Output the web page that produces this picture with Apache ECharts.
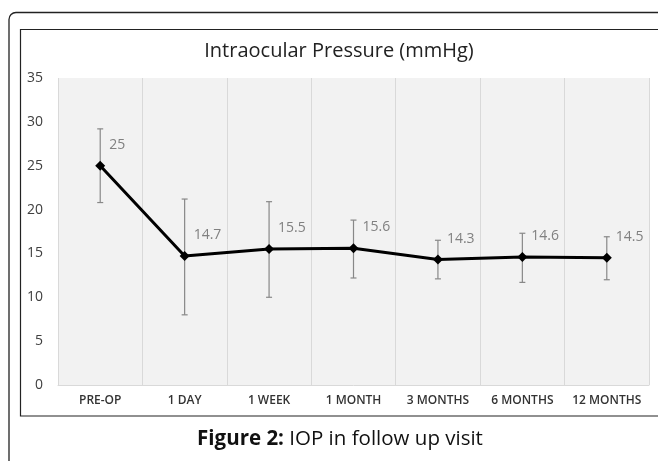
<!DOCTYPE html>
<html>
<head>
<meta charset="utf-8">
<script src="https://cdn.jsdelivr.net/npm/echarts@6/dist/echarts.min.js"></script>
<style>
html,body{margin:0;padding:0;background:#fff;}
#chart{width:658px;height:461px;}
</style>
</head>
<body>
<div id="chart"></div>
<script>
const categories = ['PRE-OP', '1 DAY', '1 WEEK', '1 MONTH', '3 MONTHS', '6 MONTHS', '12 MONTHS'];
const iopMean = [25, 14.7, 15.5, 15.6, 14.3, 14.6, 14.5];
const errLow = [20.8, 8.0, 10.0, 12.2, 12.1, 11.7, 12.0];
const errHigh = [29.2, 21.2, 20.9, 18.8, 16.5, 17.3, 16.9];
const yTicks = [0, 5, 10, 15, 20, 25, 30, 35];
const chartTitle = 'Intraocular Pressure (mmHg)';
const captionBold = 'Figure 2:';
const captionText = ' IOP in follow up visit';

const errData = categories.map((c, i) => [i, errLow[i], errHigh[i]]);

const chart = echarts.init(document.getElementById('chart'), null, {renderer: 'canvas'});
const font = '"Open Sans", "Liberation Sans", sans-serif';

chart.setOption({
  animation: false,
  backgroundColor: '#ffffff',
  grid: {
    left: 58, right: 9, top: 78, bottom: 76,
    show: true, backgroundColor: '#f2f2f2', borderWidth: 0
  },
  xAxis: {
    type: 'category',
    data: categories,
    boundaryGap: true,
    axisLine: {show: true, lineStyle: {color: '#d9d9d9', width: 1}},
    axisTick: {show: false},
    splitLine: {show: true, lineStyle: {color: '#d9d9d9', width: 1}},
    axisLabel: {
      color: '#333', fontSize: 12, fontFamily: font, fontWeight: 600,
      margin: 10, interval: 0
    }
  },
  yAxis: {
    type: 'value',
    min: yTicks[0], max: yTicks[yTicks.length - 1], interval: 5,
    axisLine: {show: false},
    axisTick: {show: false},
    splitLine: {show: false},
    axisLabel: {color: '#404040', fontSize: 14, fontFamily: font, margin: 15}
  },
  series: [
    {
      type: 'custom',
      data: errData,
      z: 2,
      renderItem: function (params, api) {
        const x = api.value(0);
        const lo = api.coord([x, api.value(1)]);
        const hi = api.coord([x, api.value(2)]);
        const cap = 3;
        const style = {stroke: '#888', lineWidth: 1.2, fill: null};
        return {
          type: 'group',
          children: [
            {type: 'line', shape: {x1: lo[0], y1: lo[1], x2: hi[0], y2: hi[1]}, style: style},
            {type: 'line', shape: {x1: lo[0] - cap, y1: lo[1], x2: lo[0] + cap, y2: lo[1]}, style: style},
            {type: 'line', shape: {x1: hi[0] - cap, y1: hi[1], x2: hi[0] + cap, y2: hi[1]}, style: style}
          ]
        };
      }
    },
    {
      type: 'line',
      data: iopMean,
      z: 5,
      symbol: 'diamond',
      symbolSize: 10,
      lineStyle: {color: '#000', width: 3},
      itemStyle: {color: '#000'},
      label: {
        show: true,
        position: 'right',
        distance: 4,
        offset: [0, -21],
        color: '#808080',
        fontSize: 14,
        fontFamily: font
      }
    }
  ],
  graphic: [
    {
      type: 'rect', z: 100, silent: true,
      shape: {x: 9, y: 12.5, width: 700, height: 500, r: 7},
      style: {fill: null, stroke: '#222', lineWidth: 1.3}
    },
    {
      type: 'rect', z: 100, silent: true,
      shape: {x: 20.5, y: 29.5, width: 700, height: 386.5},
      style: {fill: null, stroke: '#222', lineWidth: 1.2}
    },
    {
      type: 'text', z: 100, x: 339, y: 51,
      style: {text: chartTitle, font: '20px ' + font, fill: '#222', textAlign: 'center', textVerticalAlign: 'middle'}
    },
    {
      type: 'text', z: 100, x: 340, y: 439,
      style: {
        text: '{b|' + captionBold + '}{n|' + captionText + '}',
        textAlign: 'center', textVerticalAlign: 'middle',
        rich: {
          b: {fontSize: 20.5, fontWeight: 'bold', fontFamily: font, fill: '#111'},
          n: {fontSize: 20.5, fontFamily: font, fill: '#111'}
        }
      }
    }
  ]
});
</script>
</body>
</html>
